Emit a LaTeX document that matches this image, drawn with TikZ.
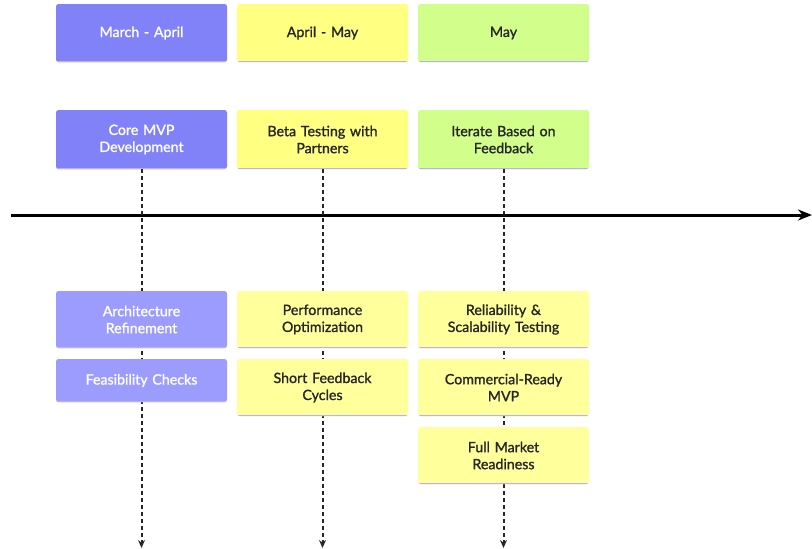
\documentclass[tikz,border=0pt]{standalone}
\usepackage{fontspec}
\setmainfont{Lato}[BoldFont=Lato, BoldFeatures={FakeBold=1.3}]
\usetikzlibrary{arrows.meta}
\definecolor{sectA}{HTML}{8282F8}
\definecolor{taskA}{HTML}{9C9CFF}
\definecolor{sectB}{HTML}{FFFF82}
\definecolor{taskB}{HTML}{FFFF9C}
\definecolor{sectC}{HTML}{D2FF8C}
\definecolor{edge}{HTML}{B8B0F0}
\tikzset{
  box/.style={rectangle, rounded corners=2.5pt, minimum width=171pt, text width=166pt,
    align=center, inner sep=0pt, font=\fontsize{14.2}{17}\selectfont\bfseries,
    path picture={\draw[edge, line width=1.6pt] (path picture bounding box.south west)
      -- (path picture bounding box.south east);}},
  lightbox/.style={box, text=white},
  darkbox/.style={box, text=black!85},
  tl/.style={dash pattern=on 4pt off 3pt, line width=2pt, black!85, -{Stealth[length=8pt,width=7pt]}},
}
\begin{document}
\begin{tikzpicture}[x=1pt, y=-1pt]
  \useasboundingbox (0,0) rectangle (812,549);
  \pgfmathsetmacro{\ca}{141.5}
  \pgfmathsetmacro{\cb}{322.5}
  \pgfmathsetmacro{\cc}{503.5}
  % periods
  \node[lightbox, fill=sectA, minimum height=58pt] (periodA) at (\ca, 33) {March - April};
  \node[darkbox, fill=sectB, minimum height=58pt] (periodB) at (\cb, 33) {April - May};
  \node[darkbox, fill=sectC, minimum height=58pt] (periodC) at (\cc, 33) {May};
  % sections
  \node[lightbox, fill=sectA, minimum height=59pt] (sectA) at (\ca, 139.5) {Core MVP\\Development};
  \node[darkbox, fill=sectB, minimum height=59pt] (sectB) at (\cb, 139.5) {Beta Testing with\\Partners};
  \node[darkbox, fill=sectC, minimum height=59pt] (sectC) at (\cc, 139.5) {Iterate Based on\\Feedback};
  % timeline
  \coordinate (start) at (11, 215);
  \coordinate (stop) at (812, 215);
  \draw[line width=3pt, -{Stealth[length=14pt,width=11pt]}] (start) -- (stop);
  \coordinate (endA) at (\ca, 548);
  \coordinate (endB) at (\cb, 548);
  \coordinate (endC) at (\cc, 548);
  \draw[tl] (sectA.south) -- (endA);
  \draw[tl] (sectB.south) -- (endB);
  \draw[tl] (sectC.south) -- (endC);
  % events
  \node[lightbox, fill=taskA, minimum height=57pt] (archRef) at (\ca, 319.5) {Architecture\\Refinement};
  \node[lightbox, fill=taskA, minimum height=43pt] (feasCheck) at (\ca, 380.5) {Feasibility Checks};
  \node[darkbox, fill=taskB, minimum height=57pt] (perfOpt) at (\cb, 319.5) {Performance\\Optimization};
  \node[darkbox, fill=taskB, minimum height=57pt] (shortFb) at (\cb, 387.5) {Short Feedback\\Cycles};
  \node[darkbox, fill=taskB, minimum height=57pt] (reliab) at (\cc, 319.5) {Reliability \&\\Scalability Testing};
  \node[darkbox, fill=taskB, minimum height=57pt] (commReady) at (\cc, 387.5) {Commercial-Ready\\MVP};
  \node[darkbox, fill=taskB, minimum height=57pt] (fullMkt) at (\cc, 455.5) {Full Market\\Readiness};
\end{tikzpicture}
\end{document}
